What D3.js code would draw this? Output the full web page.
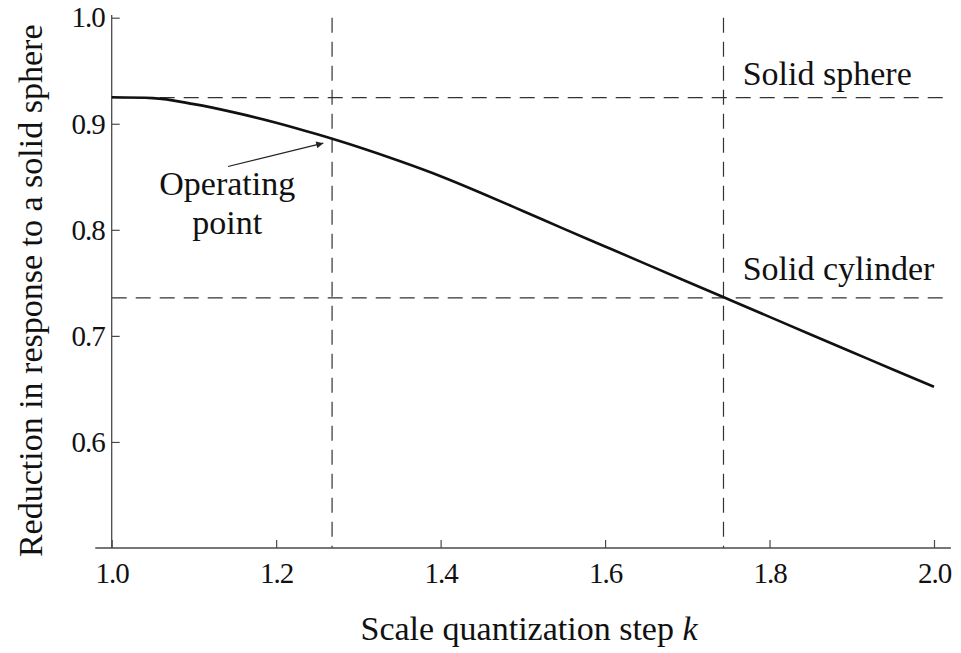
<!DOCTYPE html>
<html>
<head>
<meta charset="utf-8">
<script src="https://cdn.jsdelivr.net/npm/d3@7"></script>
<style>
  body { margin: 0; background: #fff; }
</style>
</head>
<body>
<div id="chart"></div>
<script>
// Data
const kValues = [1.0, 1.05, 1.1, 1.15, 1.2, 1.25, 1.3, 1.35, 1.4, 1.45, 1.5,
                 1.55, 1.6, 1.65, 1.7, 1.75, 1.8, 1.85, 1.9, 1.95, 2.0];
const reduction = [0.925, 0.9242, 0.9185, 0.9105, 0.901, 0.890, 0.878, 0.8648, 0.8505, 0.8345, 0.8178,
                   0.8009, 0.7843, 0.7677, 0.7511, 0.7345, 0.7179, 0.7013, 0.6848, 0.6683, 0.652];

const xTicks = [1.0, 1.2, 1.4, 1.6, 1.8, 2.0];
const yTicks = [0.6, 0.7, 0.8, 0.9, 1.0];

const sphereLevel = 0.9247;
const cylinderLevel = 0.7358;
const operatingK = 1.268;
const cylinderK = 1.744;

const w = 961, h = 653;
const serif = '"Liberation Serif"';

const x = d3.scaleLinear().domain([1.0, 2.0]).range([111.7, 934]);
const y = d3.scaleLinear().domain([0.5, 1.0]).range([548, 17.7]);

const svg = d3.select('#chart')
              .append('svg')
              .attr('width', w)
              .attr('height', h);

const axisColor = '#4a4a4a';

// Reference lines (dashed)
const refs = svg.append('g')
                .attr('stroke', '#333')
                .attr('stroke-width', 1.2)
                .attr('stroke-dasharray', '15,9')
                .attr('fill', 'none');

[sphereLevel, cylinderLevel].forEach(v => {
  refs.append('line')
    .attr('x1', x(1.0)).attr('x2', x(2.011))
    .attr('y1', y(v)).attr('y2', y(v));
});

[operatingK, cylinderK].forEach(k => {
  refs.append('line')
    .attr('x1', x(k)).attr('x2', x(k))
    .attr('y1', y(1.0)).attr('y2', y(0.5));
});

// Axes, ticks pointing inwards
const minorX = d3.range(1.0, 2.0001, 0.05);
const minorY = d3.range(0.5, 1.0001, 0.02);

const gx = svg.append('g').attr('transform', `translate(0,${y(0.5)})`);
gx.call(d3.axisBottom(x).tickValues(minorX).tickSize(-5).tickFormat(''));
gx.call(d3.axisBottom(x).tickValues(xTicks).tickSize(-8).tickPadding(14).tickFormat(d3.format('.1f')));

const gy = svg.append('g').attr('transform', `translate(${x(1.0)},0)`);
gy.call(d3.axisLeft(y).tickValues(minorY).tickSize(-5).tickFormat(''));
gy.call(d3.axisLeft(y).tickValues(yTicks).tickSize(-8).tickPadding(7).tickFormat(d3.format('.1f')));

svg.selectAll('.domain').remove();
svg.selectAll('.tick line').attr('stroke', axisColor).attr('stroke-width', 1.2);
svg.selectAll('.tick text')
   .style('font-family', serif)
   .style('font-size', '29px')
   .style('letter-spacing', '-1px')
   .attr('fill', '#111');

// axis lines, slightly overrunning like the original
svg.append('line')
  .attr('x1', x(0.98)).attr('x2', x(2.0206))
  .attr('y1', y(0.5)).attr('y2', y(0.5))
  .attr('stroke', axisColor).attr('stroke-width', 1.3);
svg.append('line')
  .attr('x1', x(1.0)).attr('x2', x(1.0))
  .attr('y1', y(0.5)).attr('y2', y(1.0025))
  .attr('stroke', axisColor).attr('stroke-width', 1.3);

// Curve
const line = d3.line()
               .x((d, i) => x(kValues[i]))
               .y(d => y(d))
               .curve(d3.curveMonotoneX);

svg.append('path')
  .datum(reduction)
  .attr('d', line)
  .attr('fill', 'none')
  .attr('stroke', '#111')
  .attr('stroke-width', 2.6);

// Arrow to operating point
svg.append('defs').append('marker')
  .attr('id', 'arrow')
  .attr('viewBox', '0 0 10 10')
  .attr('refX', 10).attr('refY', 5)
  .attr('markerWidth', 10).attr('markerHeight', 7)
  .attr('markerUnits', 'userSpaceOnUse')
  .attr('orient', 'auto')
  .append('path')
  .attr('d', 'M0,0L10,5L0,10Z')
  .attr('fill', '#222');

svg.append('line')
  .attr('x1', x(1.1414)).attr('y1', y(0.8597))
  .attr('x2', x(1.2573)).attr('y2', y(0.8817))
  .attr('stroke', '#222')
  .attr('stroke-width', 1.2)
  .attr('marker-end', 'url(#arrow)');

// Annotations
const note = svg.append('text')
                .attr('text-anchor', 'middle')
                .style('font-family', serif)
                .style('font-size', '34px')
                .attr('fill', '#111');
note.append('tspan').attr('x', x(1.1405)).attr('y', y(0.8329)).text('Operating');
note.append('tspan').attr('x', x(1.1405)).attr('y', y(0.7962)).text('point');

svg.append('text')
  .attr('x', 742.7).attr('y', 85)
  .style('font-family', serif)
  .style('font-size', '34px')
  .attr('fill', '#111')
  .text('Solid sphere');

svg.append('text')
  .attr('x', 742.7).attr('y', 280)
  .style('font-family', serif)
  .style('font-size', '34px')
  .attr('fill', '#111')
  .text('Solid cylinder');

// Axis titles
const xt = svg.append('text')
              .attr('x', 529).attr('y', 640)
              .attr('text-anchor', 'middle')
              .style('font-family', serif)
              .style('font-size', '34px')
              .attr('fill', '#111');
xt.append('tspan').text('Scale quantization step ');
xt.append('tspan').style('font-style', 'italic').text('k');

svg.append('text')
  .attr('transform', 'translate(41.7,290.8) rotate(-90)')
  .attr('text-anchor', 'middle')
  .style('font-family', serif)
  .style('font-size', '34px')
  .attr('fill', '#111')
  .text('Reduction in response to a solid sphere');
</script>
</body>
</html>
